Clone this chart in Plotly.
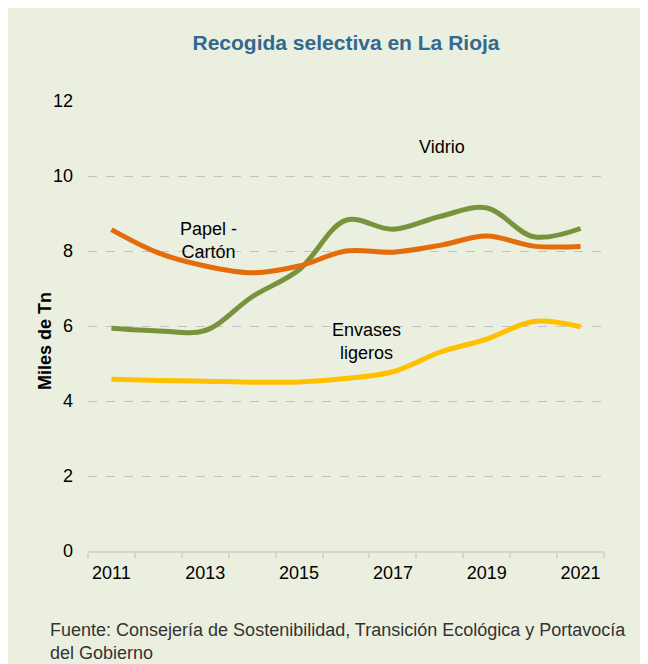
import plotly.graph_objects as go

years = ["2011", "2012", "2013", "2014", "2015", "2016", "2017", "2018", "2019", "2020", "2021"]
year_labels = ["2011", "", "2013", "", "2015", "", "2017", "", "2019", "", "2021"]
papel_carton = [8.57, 7.95, 7.6, 7.42, 7.6, 8.0, 7.97, 8.15, 8.4, 8.13, 8.12]
vidrio = [5.94, 5.87, 5.88, 6.78, 7.5, 8.82, 8.58, 8.92, 9.15, 8.38, 8.6]
envases = [4.58, 4.55, 4.53, 4.5, 4.51, 4.6, 4.78, 5.3, 5.65, 6.12, 5.98]
y_ticks = [0, 2, 4, 6, 8, 10, 12]

FONT = "Liberation Sans, Arial, sans-serif"
BG = "#EBEFDF"

W, H = 640, 656
L, R, T, B = 80, 44, 93, 113
PW, PH = W - L - R, H - T - B

fig = go.Figure()
series = [
    ("Vidrio", vidrio, "#77933C"),
    ("Papel - Cartón", papel_carton, "#E46C0A"),
    ("Envases ligeros", envases, "#FFC000"),
]
for name, vals, col in series:
    fig.add_trace(go.Scatter(
        x=years, y=vals, mode="lines", name=name,
        line=dict(color=col, width=5, shape="spline", smoothing=1.0),
        showlegend=False,
    ))

fig.update_layout(
    width=W, height=H,
    margin=dict(l=L, r=R, t=T, b=B, autoexpand=False),
    paper_bgcolor=BG,
    plot_bgcolor=BG,
    font=dict(family=FONT, size=18, color="black"),
    title=dict(text="<b>Recogida selectiva en La Rioja</b>",
               font=dict(family=FONT, size=21, color="#31698F"),
               x=0.5, xref="paper", xanchor="center",
               y=1 - 35 / H, yref="container", yanchor="middle"),
)

fig.update_xaxes(
    type="category", tickmode="array", tickvals=years, ticktext=year_labels,
    tickson="boundaries", ticks="outside", ticklen=5, tickcolor="#D4D4D4",
    tickwidth=1.5, showline=True, linecolor="#D4D4D4", linewidth=2,
    showgrid=False, tickfont=dict(size=18, color="black"), tickangle=0,
    ticklabelstandoff=4,
    range=[-0.5, 10.5],
)
fig.update_yaxes(
    range=[0, 12], tickmode="array", tickvals=y_ticks,
    showgrid=True, gridcolor="#C3C3C3", griddash="dash", gridwidth=1,
    zeroline=False, showline=False, ticks="", ticklabelstandoff=14,
    tickfont=dict(size=18, color="black"),
)

ann = dict(xref="x", yref="y", showarrow=False, font=dict(family=FONT, size=18, color="black"))
fig.add_annotation(x=7.05, y=10.77, text="Vidrio", **ann)
fig.add_annotation(x=2.06, y=8.27, text="Papel -<br>Cartón", **ann)
fig.add_annotation(x=5.44, y=5.59, text="Envases<br>ligeros", **ann)

fig.add_annotation(xref="paper", yref="paper", x=(25 - L) / PW, y=(H - B - 333) / PH,
                   text="<b>Miles de Tn</b>", textangle=-90, showarrow=False,
                   font=dict(family=FONT, size=18, color="black"))
fig.add_annotation(xref="paper", yref="paper", x=(40 - L) / PW, y=(H - B - 633) / PH,
                   xanchor="left", yanchor="middle", align="left",
                   text="Fuente: Consejería de Sostenibilidad, Transición Ecológica y Portavocía<br>del Gobierno",
                   showarrow=False, font=dict(family=FONT, size=18, color="#333333"))

fig.write_html("out.html")
